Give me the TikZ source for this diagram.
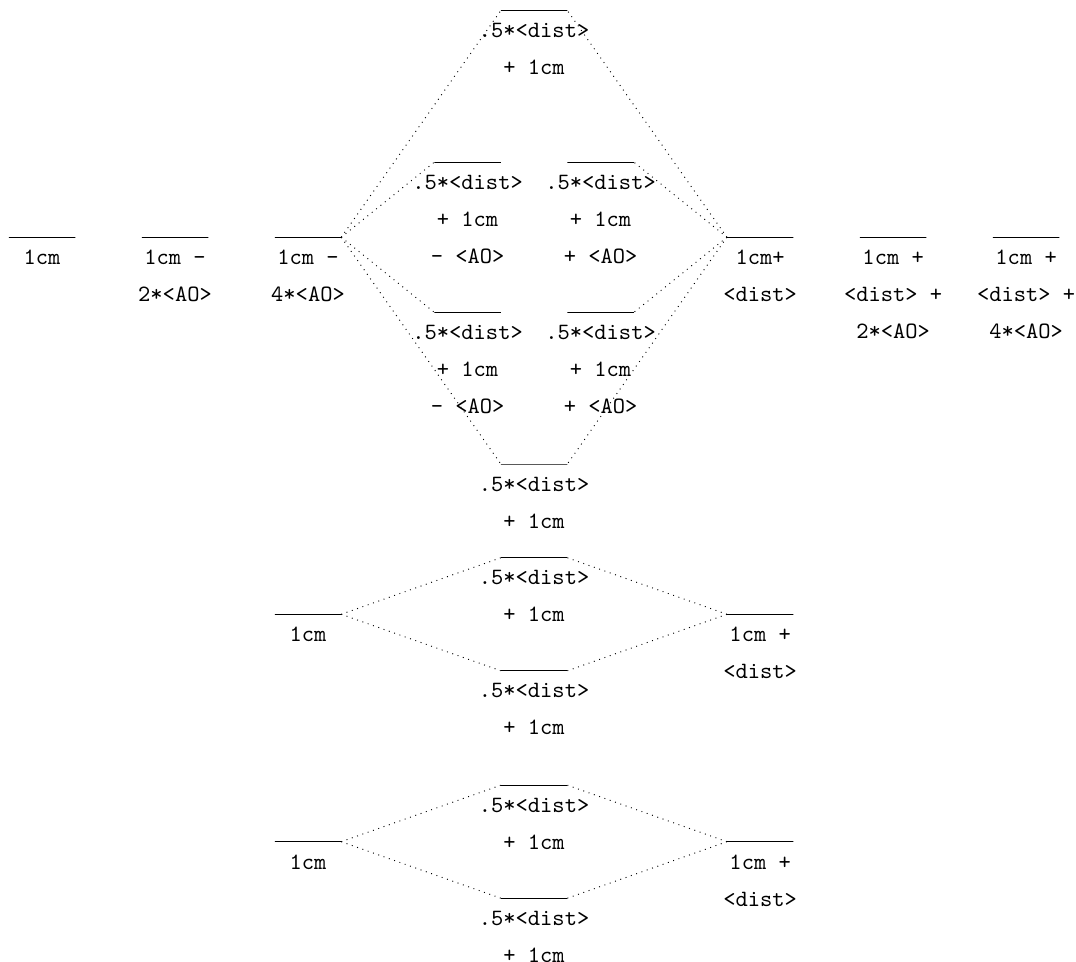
\documentclass[tikz,border=0pt]{standalone}
\usetikzlibrary{positioning}

\begin{document}
\begin{tikzpicture} [
						node distance=2cm,
						orb/.style={draw, minimum width=1cm, minimum height=0pt, inner sep=0pt, outer sep=0pt},
						every label/.style={font=\ttfamily\fontsize{10pt}{15.8pt}\selectfont, align=center, inner sep=0pt},
						label distance=5.3pt,
						conn/.style={dotted}
					]

\useasboundingbox (-0.632,-10.898) rectangle (15.55,3.568);

% atomic levels
\node (1) [orb, label=below:{1cm}] {};
\node (2) [orb, right of=1, label=below:{1cm -\\2*<AO>}] {};
\node (3) [orb, right of=2, label=below:{1cm -\\4*<AO>}] {};
\node (4) [orb, right of=3, node distance=6.8cm, label=below:{1cm+\\<dist>}] {};
\node (5) [orb, right of=4, label=below:{1cm +\\<dist> +\\2*<AO>}] {};
\node (6) [orb, right of=5, label=below:{1cm +\\<dist> +\\4*<AO>}] {};

% molecular levels
\node (7) [orb, label=below:{.5*<dist>\\+ 1cm}] at (7.4,3.41) {};
\node (8) [orb, label=below:{.5*<dist>\\+ 1cm\\- <AO>}] at (6.4,1.13) {};
\node (9) [orb, label=below:{.5*<dist>\\+ 1cm\\+ <AO>}] at (8.4,1.13) {};
\node (10) [orb, label=below:{.5*<dist>\\+ 1cm\\- <AO>}] at (6.4,-1.13) {};
\node (11) [orb, label=below:{.5*<dist>\\+ 1cm\\+ <AO>}] at (8.4,-1.13) {};
\node (12) [orb, label=below:{.5*<dist>\\+ 1cm}] at (7.4,-3.41) {};

\path[conn]
	(3.east) edge (7.west) edge (8.west) edge (10.west) edge (12.west)
	(4.west) edge (7.east) edge (9.east) edge (11.east) edge (12.east);

% second diagram
\node (13) [orb, label=below:{1cm}] at (4,-5.67) {};
\node (14) [orb, label=below:{.5*<dist>\\+ 1cm}] at (7.4,-4.82) {};
\node (15) [orb, label=below:{.5*<dist>\\+ 1cm}] at (7.4,-6.52) {};
\node (16) [orb, label=below:{1cm +\\<dist>}] at (10.8,-5.67) {};

\path[conn]
	(13.east) edge (14.west) edge (15.west)
	(16.west) edge (14.east) edge (15.east);

% third diagram
\node (17) [orb, label=below:{1cm}] at (4,-9.09) {};
\node (18) [orb, label=below:{.5*<dist>\\+ 1cm}] at (7.4,-8.24) {};
\node (19) [orb, label=below:{.5*<dist>\\+ 1cm}] at (7.4,-9.94) {};
\node (20) [orb, label=below:{1cm +\\<dist>}] at (10.8,-9.09) {};

\path[conn]
	(17.east) edge (18.west) edge (19.west)
	(20.west) edge (18.east) edge (19.east);
\end{tikzpicture}
\end{document}
